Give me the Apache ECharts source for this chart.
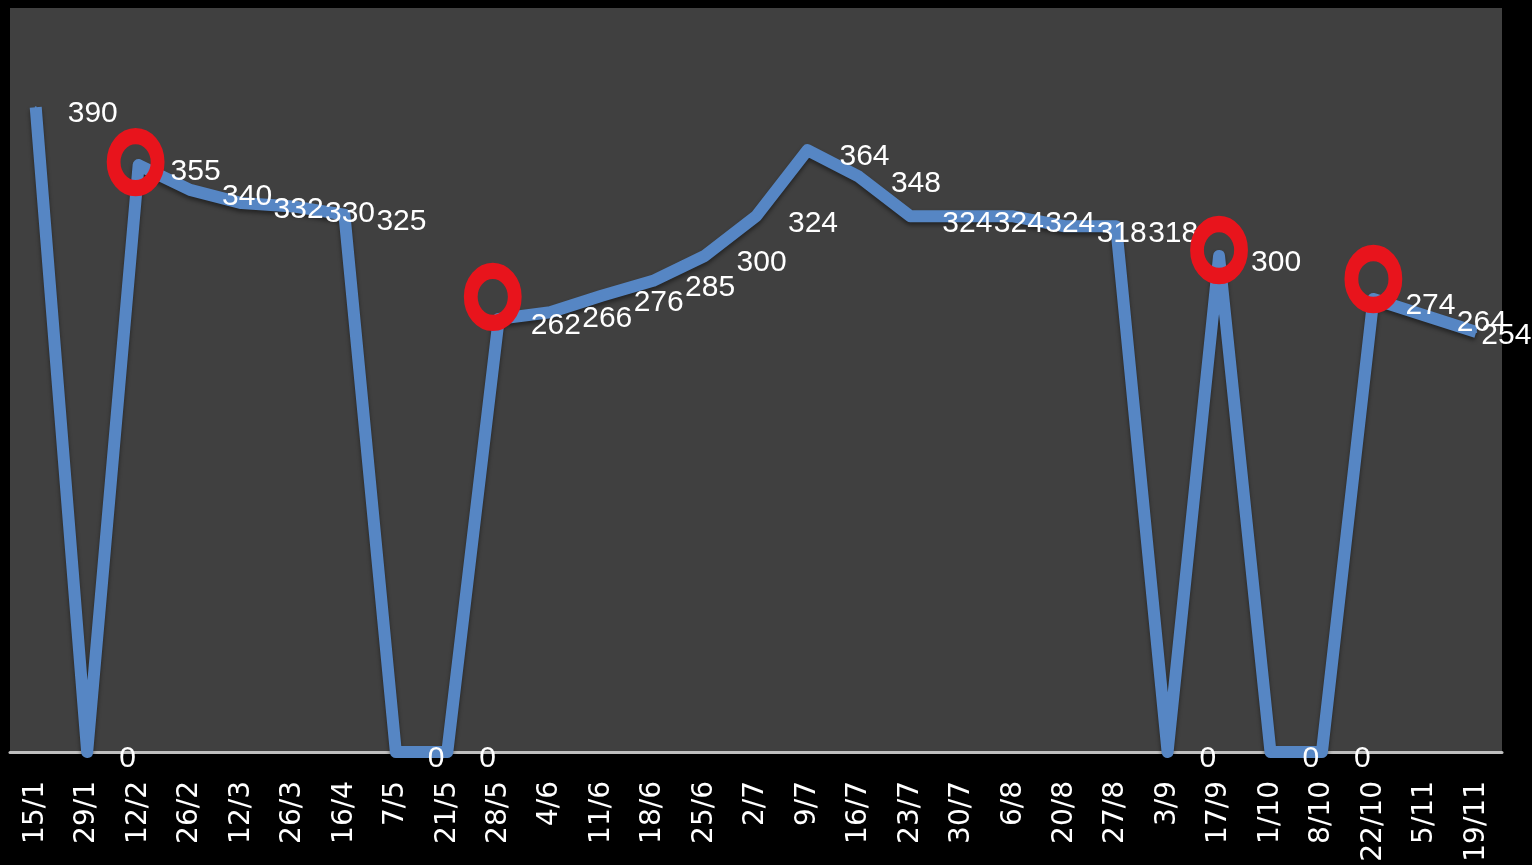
<!DOCTYPE html>
<html>
<head>
<meta charset="utf-8">
<style>
html,body{margin:0;padding:0;background:#000;}
#chart{width:1532px;height:865px;}
</style>
<script src="https://cdn.jsdelivr.net/npm/echarts@6/dist/echarts.min.js"></script>
</head>
<body>
<div id="chart"></div>
<script>
const categories = ['15/1','29/1','12/2','26/2','12/3','26/3','16/4','7/5','21/5','28/5','4/6','11/6','18/6','25/6','2/7','9/7','16/7','23/7','30/7','6/8','20/8','27/8','3/9','17/9','1/10','8/10','22/10','5/11','19/11'];
const values = [390,0,355,340,332,330,325,0,0,262,266,276,285,300,324,364,348,324,324,324,318,318,0,300,0,0,274,264,254];
const circledDates = ['12/2','28/5','17/9','22/10'];

// annotation ring offsets (style only)
const ringOffsets = [[-3,-3],[-6,-22],[0,-6],[0,-20]];

const chart = echarts.init(document.getElementById('chart'), null, {renderer:'canvas'});

const lineData = values.map((v, i) => {
  if (i === values.length - 1) {
    return {value: v, label: {position: [6, 5]}};
  }
  return v;
});

const ringData = circledDates.map((d, i) => ({
  value: [d, values[categories.indexOf(d)]],
  symbolOffset: ringOffsets[i]
}));

chart.setOption({
  animation: false,
  backgroundColor: '#000000',
  grid: {
    left: 10, right: 30, top: 8, bottom: 113,
    show: true, backgroundColor: '#404040', borderWidth: 0
  },
  xAxis: {
    type: 'category',
    data: categories,
    boundaryGap: true,
    axisLine: {show: true, lineStyle: {color: '#bfbfbf', width: 3}},
    axisTick: {show: false},
    axisLabel: {
      rotate: 90, interval: 0, margin: 29,
      color: '#ffffff', fontFamily: 'DejaVu Sans', fontSize: 28
    },
    splitLine: {show: false}
  },
  yAxis: {
    type: 'value', min: 0, max: 450,
    show: false,
    splitLine: {show: false}
  },
  series: [
    {
      type: 'line',
      data: lineData,
      symbol: 'circle',
      symbolSize: 2,
      showSymbol: true,
      itemStyle: {color: '#5686c4'},
      lineStyle: {
        color: '#5686c4', width: 12, join: 'round', cap: 'butt',
        shadowColor: 'rgba(0,0,0,0.45)', shadowBlur: 4, shadowOffsetY: 3
      },
      label: {
        show: true, position: [33, 8], align: 'left', verticalAlign: 'middle',
        color: '#ffffff', fontFamily: 'Liberation Sans', fontSize: 30
      },
      labelLayout: {hideOverlap: false},
      z: 2
    },
    {
      type: 'scatter',
      data: ringData,
      symbol: 'circle',
      symbolSize: [44, 52],
      itemStyle: {color: 'rgba(0,0,0,0)', borderColor: '#e8141c', borderWidth: 15, opacity: 1},
      label: {show: false},
      z: 3
    }
  ]
});
</script>
</body>
</html>
